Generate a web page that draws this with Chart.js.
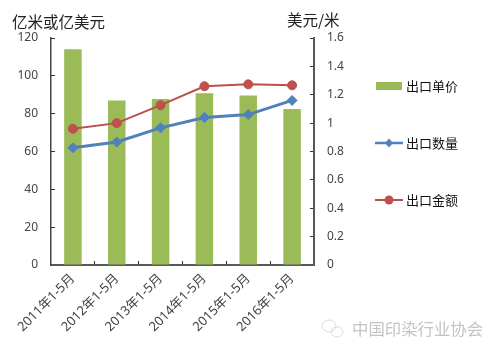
<!DOCTYPE html>
<html><head><meta charset="utf-8">
<style>html,body{margin:0;padding:0;background:#fff}#w{width:500px;height:353px}</style>
<script src="https://cdn.jsdelivr.net/npm/chart.js@4/dist/chart.umd.js"></script>
</head><body><div id="w"><canvas id="c" width="500" height="353"></canvas></div>
<script>
const categories = ["2011年1-5月","2012年1-5月","2013年1-5月","2014年1-5月","2015年1-5月","2016年1-5月"];
const unitPrice = [1.52,1.16,1.17,1.21,1.195,1.10];
const quantity = [62,65,72.5,78,79.5,87];
const amount = [72,75,84.5,94.5,95.5,95];
const leftTitle = "亿米或亿美元";
const rightTitle = "美元/米";
const watermark = "中国印染行业协会";
const FONT = '"Noto Sans","Noto Sans CJK SC",sans-serif';
const CJK = '"Noto Sans CJK SC",sans-serif';

const extras = {
  id:'extras',
  afterDraw(chart){
    const g = chart.ctx; g.save();
    g.textBaseline='middle'; g.fillStyle='#222'; g.font='15.5px '+CJK;
    g.textAlign='left'; g.fillText(leftTitle,12,22);
    g.fillText(rightTitle,287,20);
    // legend
    const ds = chart.data.datasets, ys=[86,143,200];
    g.font='13px '+CJK;
    ds.forEach((d,i)=>{
      const y=ys[i];
      if(d.type==='bar'){ g.fillStyle=d.backgroundColor; g.fillRect(376,82,26,8); }
      else{
        g.strokeStyle=d.borderColor; g.lineWidth=i===1?2.5:2;
        g.beginPath(); g.moveTo(375,y); g.lineTo(403,y); g.stroke();
        g.fillStyle=d.pointBackgroundColor;
        g.beginPath();
        if(d.pointStyle==='rectRot'){ g.moveTo(389,y-4.5); g.lineTo(393,y); g.lineTo(389,y+4.5); g.lineTo(385,y); g.closePath(); }
        else g.arc(389,y,4.5,0,Math.PI*2);
        g.fill();
      }
      g.fillStyle='#111'; g.textAlign='left'; g.fillText(d.label,406,y);
    });
    // watermark
    g.fillStyle='#c4c4c4'; g.font='16.4px '+CJK; g.fillText(watermark,352,329);
    g.strokeStyle='#dcdcdc'; g.lineWidth=1;
    g.beginPath(); g.ellipse(329,326,7,6,0,0,Math.PI*2); g.stroke();
    g.beginPath(); g.ellipse(337,332,6,5,0,0,Math.PI*2); g.stroke();
    g.restore();
  }
};

new Chart(document.getElementById('c'),{
  data:{labels:categories,datasets:[
    {type:'bar',label:'出口单价',data:unitPrice,yAxisID:'y1',backgroundColor:'#9BBB59',barPercentage:0.4,categoryPercentage:1,order:3},
    {type:'line',label:'出口数量',data:quantity,yAxisID:'y',borderColor:'#4F81BD',borderWidth:3,pointStyle:'rectRot',pointRadius:5,pointBackgroundColor:'#4F81BD',pointBorderColor:'#4F81BD',pointBorderWidth:1,tension:0,order:2},
    {type:'line',label:'出口金额',data:amount,yAxisID:'y',borderColor:'#B8504B',borderWidth:2,pointStyle:'circle',pointRadius:4.5,pointBackgroundColor:'#C0504D',pointBorderColor:'#C0504D',pointBorderWidth:1,tension:0,order:1}
  ]},
  options:{
    responsive:false,animation:false,
    layout:{padding:{left:0,right:146,top:38,bottom:0}},
    plugins:{legend:{display:false},title:{display:false},tooltip:{enabled:false}},
    scales:{
      x:{position:'bottom',offset:true,
        grid:{offset:true,drawOnChartArea:false,color:'#333',tickLength:-4},
        border:{color:'#595959',width:2},
        ticks:{minRotation:45,maxRotation:45,color:'#444',font:{family:FONT,size:13},padding:10},
        afterFit(s){s.height=88;}},
      y:{position:'left',min:0,max:120,
        grid:{drawOnChartArea:false,color:'#333',tickLength:-4},
        border:{color:'#444',width:1.5},
        ticks:{stepSize:20,color:'#444',font:{family:FONT,size:12},padding:17},
        afterFit(s){s.width=51;}},
      y1:{position:'right',min:0,max:1.6,
        grid:{drawOnChartArea:false,color:'#333',tickLength:-4},
        border:{color:'#595959',width:2},
        ticks:{stepSize:0.2,color:'#444',font:{family:FONT,size:12},padding:17,
          callback:v=>String(Number(v.toFixed(1)))},
        afterFit(s){s.width=40;}}
    }
  },
  plugins:[extras]
});
</script></body></html>
